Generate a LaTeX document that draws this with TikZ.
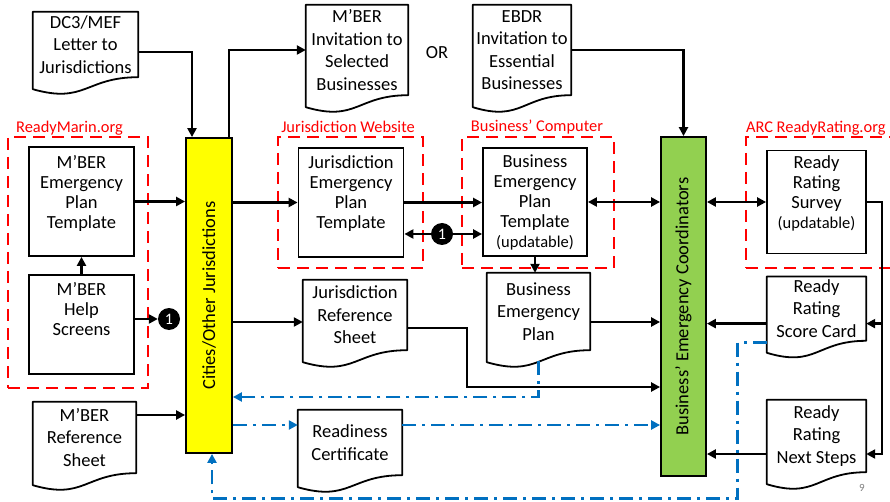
\documentclass[tikz,border=0pt]{standalone}
\usepackage{fontspec}
\setmainfont{Carlito}
\usepackage{tikz}
\usetikzlibrary{positioning,arrows.meta,calc}

\definecolor{zonered}{RGB}{255,0,0}
\definecolor{baryellow}{RGB}{255,255,0}
\definecolor{bargreen}{RGB}{146,208,80}
\definecolor{lineblue}{RGB}{0,112,192}

\begin{document}
\begin{tikzpicture}[x=1pt, y=-1pt,
  myrect/.style={draw, line width=1.8pt, align=center, inner sep=2pt, font=\fontsize{18.5}{20}\selectfont},
  mydoc/.style={align=center, inner sep=2pt, font=\fontsize{18.5}{22.5}\selectfont},
  docline/.style={line width=1.8pt, line join=round},
  mybar/.style={draw, line width=1.8pt},
  bartext/.style={rotate=90, font=\fontsize{18.5}{20}\selectfont},
  myzone/.style={draw=zonered, line width=1.8pt, dash pattern=on 12pt off 7pt},
  zonetext/.style={text=zonered, font=\fontsize{16.4}{18}\selectfont},
  mycirc/.style={circle, fill=black, text=white, inner sep=0pt, minimum size=22pt, font=\fontsize{16}{16}\selectfont},
  arr/.style={line width=2.5pt, -{Triangle[length=9pt,width=9pt]}},
  arrb/.style={line width=2.5pt, {Triangle[length=9pt,width=9pt]}-{Triangle[length=9pt,width=9pt]}},
  barr/.style={draw=lineblue, line width=2.8pt, dash pattern=on 14pt off 6pt on 3pt off 6pt, -{Triangle[length=9pt,width=9pt]}},
 ]
\useasboundingbox (0,0) rectangle (890,502);
\clip (0,0) rectangle (890,502);

% dashed areas
\node[myzone, minimum width=140pt, minimum height=251pt] (rmz) at (78,262.5) {};
\node[myzone, minimum width=145pt, minimum height=131pt] (jwz) at (350.5,202.5) {};
\node[myzone, minimum width=152pt, minimum height=131pt] (bcz) at (538,202.5) {};
\node[myzone, minimum width=164pt, minimum height=131pt] (arcz) at (828,202.5) {};
\node[zonetext] (rml) at (69.5,128) {ReadyMarin.org};
\node[zonetext] (jwl) at (348,127) {Jurisdiction Website};
\node[zonetext] (bcl) at (537,127) {Business’ Computer};
\node[zonetext, anchor=east] (arcl) at (889,128) {ARC ReadyRating.org};

% bars
\node[mybar, fill=baryellow, minimum width=46pt, minimum height=315pt] (yel) at (209,295.5) {};
\node[bartext] (yeltext) at (yel) {Cities/Other Jurisdictions};
\node[mybar, fill=bargreen, minimum width=45pt, minimum height=339pt] (grn) at (683.5,306.5) {};
\node[bartext] (grntext) at (grn) {Business’ Emergency Coordinators};

% boxes
\node[myrect, minimum width=105pt, minimum height=109pt] (tplM) at (81.5,201.5) {M’BER\\Emergency\\Plan\\Template\\\mbox{}};
\node[myrect, minimum width=105pt, minimum height=99pt, below=17pt of tplM] (help) {M’BER\\Help\\Screens\\[10pt]\mbox{}};
\node[myrect, minimum width=105pt, minimum height=109pt] (jtpl) at (351,202.5) {Jurisdiction\\Emergency\\Plan\\Template\\\mbox{}};
\node[myrect, minimum width=104pt, minimum height=108pt] (btpl) at (535,202) {Business\\Emergency\\Plan\\Template\\{\fontsize{16.5}{20}\selectfont(updatable)}};
\node[myrect, minimum width=99pt, minimum height=103pt] (rrs) at (816.5,202) {Ready\\Rating\\Survey\\{\fontsize{16.5}{20}\selectfont(updatable)}\\\mbox{}};

% documents
\node[mydoc, minimum width=105pt, minimum height=65pt] (dc3) at (85.5,44.5) {DC3/MEF\\Letter to\\Jurisdictions};
\node[mydoc, minimum width=102pt, minimum height=90pt] (inv) at (357,50) {M’BER\\Invitation to\\Selected\\Businesses};
\node[mydoc, minimum width=98pt, minimum height=90pt] (ebdr) at (522,50) {EBDR\\Invitation to\\Essential\\Businesses};
\node[mydoc, minimum width=104pt, minimum height=70pt] (jrs) at (355,315) {Jurisdiction\\Reference\\Sheet};
\node[mydoc, minimum width=103pt, minimum height=77pt] (bep) at (538.5,311.5) {Business\\Emergency\\Plan};
\node[mydoc, minimum width=99pt, minimum height=64pt, below=22pt of rrs] (score) {Ready\\Rating\\Score Card};
\node[mydoc, minimum width=99pt, minimum height=72pt, below=59pt of score] (next) {Ready\\Rating\\Next Steps};
\node[mydoc, minimum width=103pt, minimum height=71pt] (mref) at (84.5,437.5) {M’BER\\Reference\\Sheet};
\node[mydoc, minimum width=104pt, minimum height=65pt] (rc) at (350,442.5) {Readiness\\Certificate};

\foreach \d in {dc3,inv,ebdr,jrs,bep,score,next,mref,rc}
  \draw[docline] (\d.north west) -- ([yshift=-12pt]\d.south west)
    .. controls ([yshift=-27pt]\d.south) and (\d.south) .. (\d.south east)
    -- (\d.north east) -- cycle;

\node[font=\fontsize{18.5}{20}\selectfont] (orword) at (437,53) {OR};
\node[mycirc] (c1) at (169,319) {1};
\node[mycirc] (c2) at (442,234) {1};
\node[text=gray, font=\fontsize{11}{12}\selectfont] (pgnum) at (862,488) {9};

% top
\draw[arr] ([yshift=-7.5pt]dc3.east) -| ([xshift=-17pt]yel.north);
\draw[arr] ([xshift=20pt]yel.north) |- (inv.west);
\draw[arr] (ebdr.east) -| (grn.north);

% left
\draw[arr] (help) -- (tplM);
\draw[arr] (tplM.east) -- (tplM.east -| yel.west);
\draw[arr] (help.east |- c1) -- (c1);
\draw[arr] ([yshift=22.5pt]mref.east) -- ([yshift=22.5pt]mref.east -| yel.west);

% middle
\draw[arr] (jtpl.west -| yel.east) -- (jtpl.west);
\draw[arr] (jtpl.east) -- (jtpl.east -| btpl.west);
\draw[arr] (c2) -- (c2 -| jtpl.east);
\draw[arr] (c2) -- (c2 -| btpl.west);
\draw[arr] (btpl.south) -- (btpl.south |- bep.north);
\draw[arrb] (btpl.east) -- (btpl.east -| grn.west);
\draw[arr] ([yshift=-7pt]jrs.west -| yel.east) -- ([yshift=-7pt]jrs.west);
\draw[arr] ([yshift=-13pt]jrs.east) -- ++(60,0) |- ([yshift=-80.5pt]grn.west);
\draw[arr] ([yshift=-10.5pt]bep.east) -- ([yshift=-10.5pt]bep.east -| grn.west);

% right
\draw[arrb] (rrs.west -| grn.east) -- (rrs.west);
\draw[arr] (rrs.east) -| ([xshift=16pt,yshift=-18pt]next.east) -- ([yshift=-18pt]next.east);
\draw[arr] ([xshift=16pt,yshift=-15pt]score.east) -- ([yshift=-15pt]score.east);
\draw[arr] ([yshift=-15pt]score.west) -- ([yshift=-15pt]score.west -| grn.east);
\draw[arr] ([yshift=-18pt]next.west) -- ([yshift=-18pt]next.west -| grn.east);

% feedback (blue)
\draw[barr] ([yshift=-11pt]bep.south) |- ([yshift=-101.5pt]yel.east);
\draw[barr] ([yshift=17.5pt]rc.west -| yel.east) -- ([yshift=17.5pt]rc.west);
\draw[barr] ([yshift=17.5pt]rc.east) -- ([yshift=17.5pt]rc.east -| grn.west);
\draw[barr] ([yshift=-34pt]score.west) -- ++(-29,0) -- ++(0,156) -| ([xshift=3pt]yel.south);

\end{tikzpicture}
\end{document}
